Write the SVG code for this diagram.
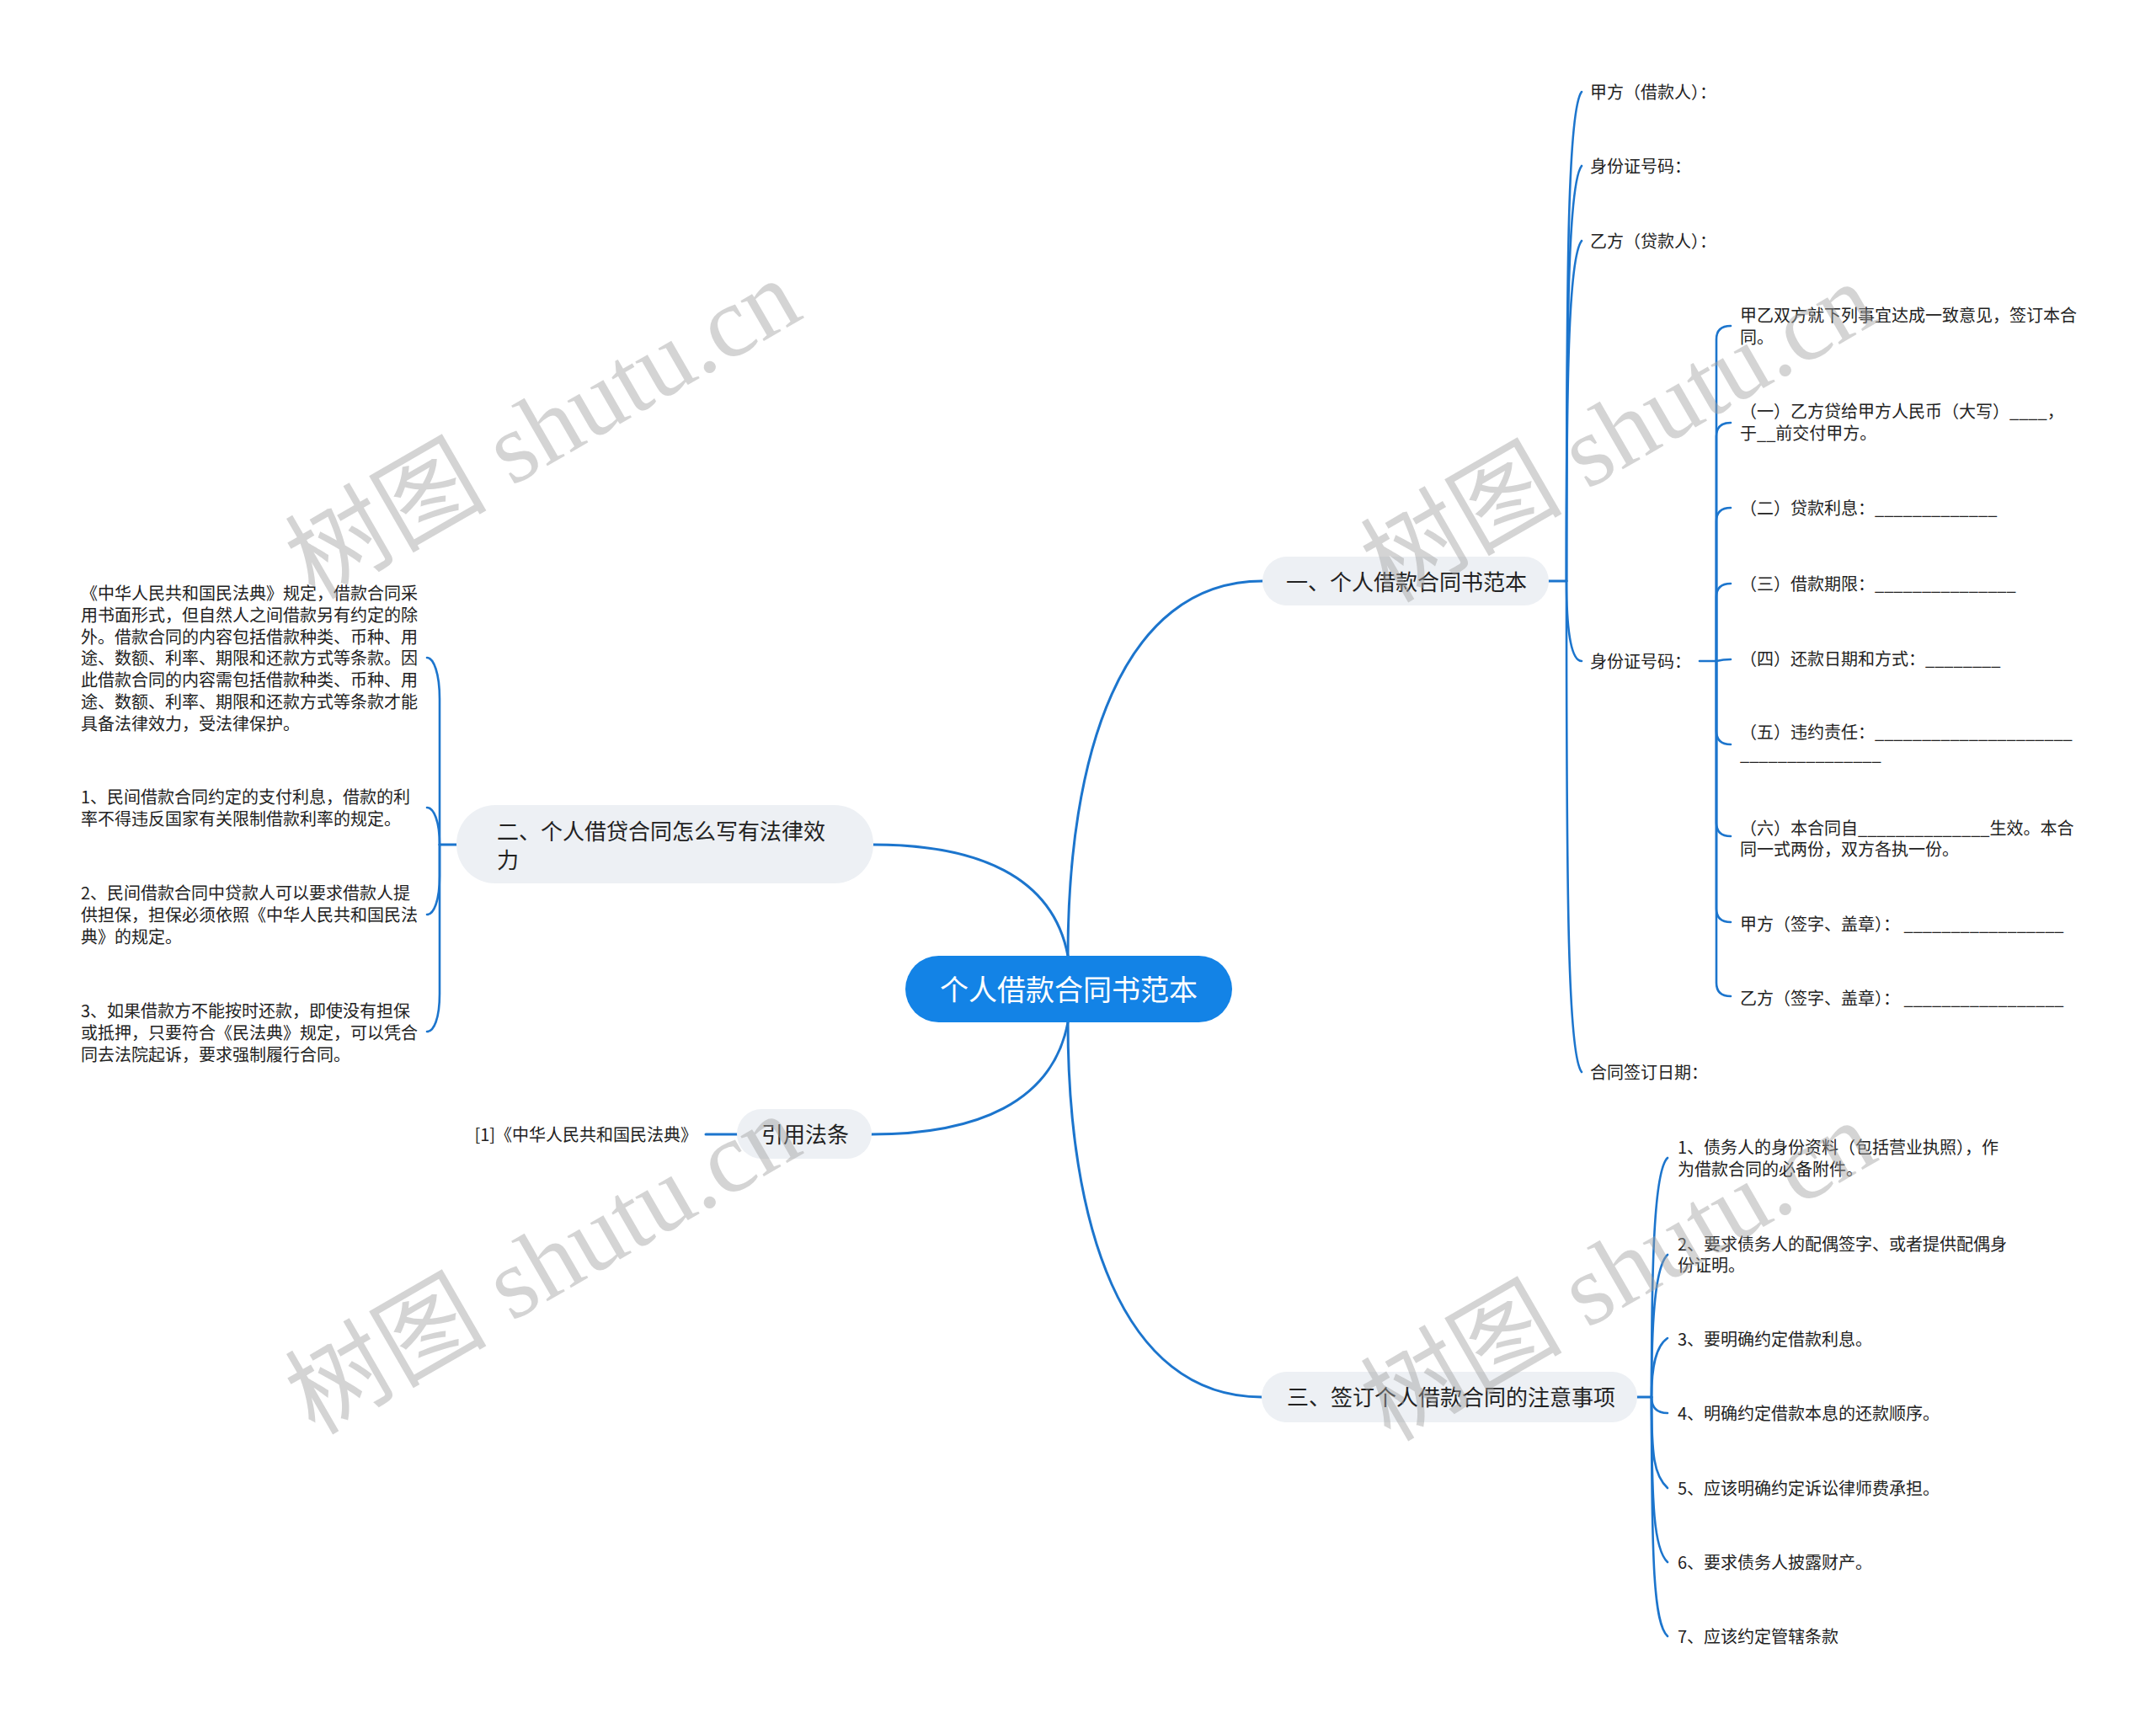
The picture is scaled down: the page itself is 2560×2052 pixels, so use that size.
<svg xmlns="http://www.w3.org/2000/svg" width="2560" height="2052" viewBox="0 0 2560 2052">
<defs>
<style>
.t{font-family:"Noto Sans CJK SC","Noto Sans",sans-serif;fill:#222;}
.s{font-size:20px;}
.m{font-size:26px;}
.r{font-size:34px;fill:#fff;}
.box{fill:#edf0f4;}
.c{fill:none;stroke:#1c75cd;stroke-width:3;stroke-linecap:round;}
.c2{fill:none;stroke:#1c75cd;stroke-width:2.6;stroke-linecap:round;}
.wm{font-family:"Liberation Serif","Noto Sans CJK SC",serif;font-size:120px;fill:#a0a0a0;fill-opacity:0.45;}
</style>
</defs>
<rect width="2560" height="2052" fill="#fff"/>

<g id="connectors">
<path class="c" d="M1268,1135 C1268,900 1330,690 1499,690"/>
<path class="c" d="M1268,1135 C1250,1040 1160,1003 1037,1003"/>
<path class="c" d="M1268,1214 C1250,1309 1160,1347 1035,1347"/>
<path class="c" d="M1268,1214 C1268,1450 1330,1659 1498,1659"/>
<path class="c" d="M1839,690 H1860"/>
<path class="c2" d="M1860,690 C1860,300 1862,130 1878,109"/>
<path class="c2" d="M1860,690 C1860,380 1862,217 1878,197"/>
<path class="c2" d="M1860,690 C1860,460 1862,306 1878,286"/>
<path class="c2" d="M1860,690 C1860,740 1864,785 1878,785"/>
<path class="c2" d="M1860,690 C1860,1080 1862,1253 1878,1273"/>
<path class="c2" d="M2018,785 H2038"/>
<path class="c2" d="M2038,785 V403 Q2038,387 2055,387"/>
<path class="c2" d="M2038,785 V518 Q2038,502 2055,502"/>
<path class="c2" d="M2038,785 V619 Q2038,603 2055,603"/>
<path class="c2" d="M2038,785 V709 Q2038,693 2055,693"/>
<path class="c2" d="M2038,785 Q2046,783 2055,783"/>
<path class="c2" d="M2038,785 V868 Q2038,884 2055,884"/>
<path class="c2" d="M2038,785 V977 Q2038,993 2055,993"/>
<path class="c2" d="M2038,785 V1079 Q2038,1095 2055,1095"/>
<path class="c2" d="M2038,785 V1167 Q2038,1183 2055,1183"/>
<path class="c" d="M542,1003 H522"/>
<path class="c2" d="M522,1003 L522,830 C522,800 515,781 507,781"/>
<path class="c2" d="M522,1003 C522,975 515,959 507,959"/>
<path class="c2" d="M522,1003 L522,1040 C522,1070 515,1086 507,1086"/>
<path class="c2" d="M522,1003 L522,1180 C522,1210 515,1225 507,1225"/>
<path class="c" d="M875,1347 H838"/>
<path class="c" d="M1944,1659 H1961"/>
<path class="c2" d="M1961,1659 C1961,1500 1964,1390 1980,1375"/>
<path class="c2" d="M1961,1659 C1961,1580 1964,1505 1980,1490"/>
<path class="c2" d="M1961,1659 C1961,1630 1964,1600 1980,1589"/>
<path class="c2" d="M1961,1659 C1961,1670 1966,1678 1980,1678"/>
<path class="c2" d="M1961,1659 C1961,1730 1964,1752 1980,1767"/>
<path class="c2" d="M1961,1659 C1961,1790 1964,1840 1980,1855"/>
<path class="c2" d="M1961,1659 C1961,1860 1964,1928 1980,1943"/>
</g>

<g id="root">
<rect x="1075" y="1135" width="388" height="79" rx="39.5" fill="#1383e6"/>
<text class="t r" x="1269" y="1188" text-anchor="middle">个人借款合同书范本</text>
</g>

<g id="b1">
<rect class="box" x="1499" y="661" width="340" height="58" rx="29"/>
<text class="t m" x="1527" y="701">一、个人借款合同书范本</text>
</g>
<g id="b1-1"><text class="t s" x="1888" y="117">甲方（借款人）：</text></g>
<g id="b1-2"><text class="t s" x="1888" y="205">身份证号码：</text></g>
<g id="b1-3"><text class="t s" x="1888" y="294">乙方（贷款人）：</text></g>
<g id="b1-4"><text class="t s" x="1888" y="793">身份证号码：</text></g>
<g id="b1-5"><text class="t s" x="1888" y="1281">合同签订日期：</text></g>

<g id="b1-4-1"><text class="t s" x="2066" y="382">甲乙双方就下列事宜达成一致意见，签订本合<tspan x="2066" y="408">同。</tspan></text></g>
<g id="b1-4-2"><text class="t s" x="2066" y="496">（一）乙方贷给甲方人民币（大写）____，<tspan x="2066" y="522">于__前交付甲方。</tspan></text></g>
<g id="b1-4-3"><text class="t s" x="2066" y="611">（二）贷款利息：_____________</text></g>
<g id="b1-4-4"><text class="t s" x="2066" y="701">（三）借款期限：_______________</text></g>
<g id="b1-4-5"><text class="t s" x="2066" y="790">（四）还款日期和方式：________</text></g>
<g id="b1-4-6"><text class="t s" x="2066" y="877">（五）违约责任：_____________________<tspan x="2066" y="903">_______________</tspan></text></g>
<g id="b1-4-7"><text class="t s" x="2066" y="991">（六）本合同自______________生效。本合<tspan x="2066" y="1016">同一式两份，双方各执一份。</tspan></text></g>
<g id="b1-4-8"><text class="t s" x="2066" y="1105">甲方（签字、盖章）： _________________</text></g>
<g id="b1-4-9"><text class="t s" x="2066" y="1193">乙方（签字、盖章）： _________________</text></g>

<g id="b2">
<rect class="box" x="542" y="956" width="495" height="93" rx="46"/>
<text class="t m" x="590" y="997">二、个人借贷合同怎么写有法律效<tspan x="590" y="1031">力</tspan></text>
</g>
<g id="b2-1"><text class="t s" x="96" y="712">《中华人民共和国民法典》规定，借款合同采<tspan x="96" y="738">用书面形式，但自然人之间借款另有约定的除</tspan><tspan x="96" y="764">外。借款合同的内容包括借款种类、币种、用</tspan><tspan x="96" y="789">途、数额、利率、期限和还款方式等条款。因</tspan><tspan x="96" y="815">此借款合同的内容需包括借款种类、币种、用</tspan><tspan x="96" y="841">途、数额、利率、期限和还款方式等条款才能</tspan><tspan x="96" y="867">具备法律效力，受法律保护。</tspan></text></g>
<g id="b2-2"><text class="t s" x="96" y="954">1、民间借款合同约定的支付利息，借款的利<tspan x="96" y="980">率不得违反国家有关限制借款利率的规定。</tspan></text></g>
<g id="b2-3"><text class="t s" x="96" y="1068">2、民间借款合同中贷款人可以要求借款人提<tspan x="96" y="1094">供担保，担保必须依照《中华人民共和国民法</tspan><tspan x="96" y="1120">典》的规定。</tspan></text></g>
<g id="b2-4"><text class="t s" x="96" y="1208">3、如果借款方不能按时还款，即使没有担保<tspan x="96" y="1234">或抵押，只要符合《民法典》规定，可以凭合</tspan><tspan x="96" y="1260">同去法院起诉，要求强制履行合同。</tspan></text></g>

<g id="b3">
<rect class="box" x="875" y="1317" width="160" height="59" rx="29.5"/>
<text class="t m" x="904" y="1357">引用法条</text>
</g>
<g id="b3-1"><text class="t s" x="828" y="1355" text-anchor="end">[1]《中华人民共和国民法典》</text></g>

<g id="b4">
<rect class="box" x="1498" y="1629" width="446" height="60" rx="30"/>
<text class="t m" x="1528" y="1669">三、签订个人借款合同的注意事项</text>
</g>
<g id="b4-1"><text class="t s" x="1992" y="1370">1、债务人的身份资料（包括营业执照），作<tspan x="1992" y="1396">为借款合同的必备附件。</tspan></text></g>
<g id="b4-2"><text class="t s" x="1992" y="1485">2、要求债务人的配偶签字、或者提供配偶身<tspan x="1992" y="1510">份证明。</tspan></text></g>
<g id="b4-3"><text class="t s" x="1992" y="1598">3、要明确约定借款利息。</text></g>
<g id="b4-4"><text class="t s" x="1992" y="1686">4、明确约定借款本息的还款顺序。</text></g>
<g id="b4-5"><text class="t s" x="1992" y="1775">5、应该明确约定诉讼律师费承担。</text></g>
<g id="b4-6"><text class="t s" x="1992" y="1863">6、要求债务人披露财产。</text></g>
<g id="b4-7"><text class="t s" x="1992" y="1951">7、应该约定管辖条款</text></g>

<g id="watermark">
<text class="wm" x="645" y="550" text-anchor="middle" transform="rotate(-30 645 510)">树图 shutu.cn</text>
<text class="wm" x="1922" y="554" text-anchor="middle" transform="rotate(-30 1922 514)">树图 shutu.cn</text>
<text class="wm" x="645" y="1542" text-anchor="middle" transform="rotate(-30 645 1502)">树图 shutu.cn</text>
<text class="wm" x="1922" y="1550" text-anchor="middle" transform="rotate(-30 1922 1510)">树图 shutu.cn</text>
</g>
</svg>
